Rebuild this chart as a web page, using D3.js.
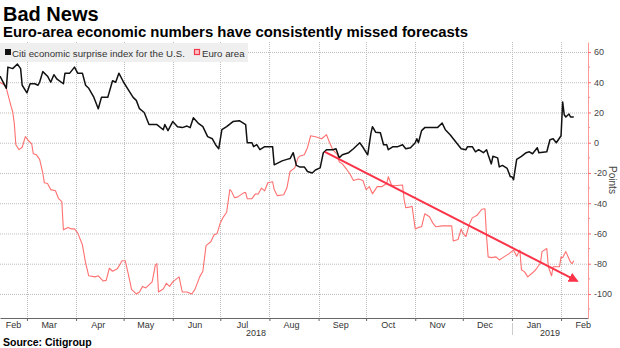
<!DOCTYPE html>
<html>
<head>
<meta charset="utf-8">
<script src="https://cdn.jsdelivr.net/npm/d3@7"></script>
<style>
	body { margin: 0; background: #fff; }
	text { font-family: "Liberation Sans", Arial, sans-serif; }
</style>
</head>
<body>
<svg width="620" height="348"></svg>
<script>
// Citi economic surprise index
const usSeries = [
	["2018-02-12",44],["2018-02-16",36],["2018-02-17",50],["2018-02-20",49],["2018-02-23",52],["2018-02-25",49],
	["2018-02-26",38],["2018-03-01",33],["2018-03-03",39],["2018-03-06",39],["2018-03-08",38],["2018-03-09",40],
	["2018-03-11",47],["2018-03-14",44],["2018-03-16",40],["2018-03-18",45],["2018-03-20",42],["2018-03-24",39],
	["2018-03-25",46],["2018-03-28",46],["2018-03-31",50],["2018-04-02",46],["2018-04-05",46],["2018-04-07",38],
	["2018-04-09",36],["2018-04-12",30.5],["2018-04-15",22.5],["2018-04-17",30],["2018-04-21",30],["2018-04-24",41],
	["2018-04-26",40],["2018-04-28",46],["2018-05-01",40],["2018-05-04",35],["2018-05-07",30],["2018-05-09",28],
	["2018-05-11",22.5],["2018-05-14",20],["2018-05-17",12],["2018-05-22",12],["2018-05-26",8.6],["2018-05-27",12],
	["2018-05-29",8],["2018-06-01",14],["2018-06-04",10.6],["2018-06-07",10],["2018-06-10",11],["2018-06-12",10],
	["2018-06-14",16.5],["2018-06-17",13],["2018-06-20",10.6],["2018-06-23",4],["2018-06-26",2.6],["2018-06-28",-1.3],
	["2018-06-30",-4],["2018-07-02",8.6],["2018-07-05",10.6],["2018-07-09",14],["2018-07-13",14.6],["2018-07-17",12],
	["2018-07-18",0],["2018-07-21",0],["2018-07-22",-2.6],["2018-07-24",-1.3],["2018-07-26",-4.6],["2018-07-29",-2.6],
	["2018-08-01",-2.6],["2018-08-03",-2.6],["2018-08-04",-14.6],["2018-08-09",-12],["2018-08-12",-11],["2018-08-14",-10.5],
	["2018-08-16",-6.6],["2018-08-18",-15],["2018-08-20",-16],["2018-08-23",-16],["2018-08-25",-19],["2018-08-28",-20],
	["2018-08-30",-18],["2018-09-02",-16.6],["2018-09-04",-6.6],["2018-09-06",-4.6],["2018-09-10",-4.6],["2018-09-12",-4],
	["2018-09-14",-10],["2018-09-16",-8],["2018-09-20",-6.6],["2018-09-23",-4],["2018-09-27",0],["2018-09-29",-3],
	["2018-10-02",-8],["2018-10-04",6],["2018-10-05",10.6],["2018-10-07",7],["2018-10-10",6.6],["2018-10-12",-1.3],
	["2018-10-14",-1.3],["2018-10-15",-4.6],["2018-10-18",-2.6],["2018-10-21",-2.6],["2018-10-24",-1.3],["2018-10-26",-4],
	["2018-10-29",-3.3],["2018-11-01",0],["2018-11-02",2.6],["2018-11-03",0],["2018-11-05",8],["2018-11-07",10],
	["2018-11-10",10],["2018-11-15",10],["2018-11-18",13],["2018-11-20",8.6],["2018-11-23",5.3],["2018-11-25",2.6],
	["2018-11-28",-1.3],["2018-11-30",-4],["2018-12-03",-4.6],["2018-12-04",-2.6],["2018-12-07",-2.6],["2018-12-09",-6],
	["2018-12-11",-4.6],["2018-12-14",-6.6],["2018-12-16",-4.6],["2018-12-17",-8],["2018-12-19",-14],["2018-12-20",-9],
	["2018-12-23",-10],["2018-12-24",-16],["2018-12-26",-15],["2018-12-29",-17],["2018-12-31",-22.5],["2019-01-01",-22.5],
	["2019-01-02",-24.5],["2019-01-04",-11],["2019-01-07",-9],["2019-01-10",-6.6],["2019-01-12",-6],["2019-01-14",-7.3],
	["2019-01-15",-6],["2019-01-17",-3.3],["2019-01-18",-6.6],["2019-01-23",-6],["2019-01-25",2],["2019-01-27",2.6],
	["2019-01-29",0],["2019-02-01",4.6],["2019-02-02",27],["2019-02-03",18.5],["2019-02-04",17],["2019-02-06",19],
	["2019-02-07",17],["2019-02-09",17],
];

const euroSeries = [
	["2018-02-12",40],["2018-02-15",38],["2018-02-16",36],["2018-02-19",24],["2018-02-20",20.5],["2018-02-21",13],
	["2018-02-22",-1.3],["2018-02-24",-4.6],["2018-02-26",-3],["2018-02-28",4],["2018-03-02",1.3],["2018-03-04",-0.7],
	["2018-03-05",-7.3],["2018-03-07",-8],["2018-03-09",-11],["2018-03-11",-20],["2018-03-12",-26.5],["2018-03-14",-27],
	["2018-03-16",-31],["2018-03-19",-31.8],["2018-03-21",-37],["2018-03-23",-39],["2018-03-24",-57.6],["2018-03-27",-56],
	["2018-03-29",-57],["2018-03-31",-57],["2018-04-02",-59.6],["2018-04-05",-67.5],["2018-04-07",-79.5],["2018-04-09",-88],
	["2018-04-13",-88.7],["2018-04-15",-88],["2018-04-18",-91.4],["2018-04-20",-91],["2018-04-22",-83],["2018-04-24",-85],
	["2018-04-27",-83.4],["2018-04-30",-78],["2018-05-02",-78],["2018-05-04",-87],["2018-05-06",-97],["2018-05-09",-100],
	["2018-05-11",-98.7],["2018-05-13",-95],["2018-05-15",-96],["2018-05-19",-92],["2018-05-21",-81],["2018-05-22",-80],
	["2018-05-23",-98.7],["2018-05-26",-96.7],["2018-05-28",-93],["2018-05-30",-95],["2018-06-01",-92],["2018-06-05",-88.7],
	["2018-06-07",-98.7],["2018-06-10",-98.7],["2018-06-13",-100],["2018-06-15",-97],["2018-06-18",-88.7],["2018-06-20",-85],
	["2018-06-22",-68],["2018-06-25",-65.5],["2018-06-27",-61],["2018-06-29",-60],["2018-07-01",-53],["2018-07-03",-49],
	["2018-07-05",-46],["2018-07-07",-31],["2018-07-08",-32],["2018-07-10",-36.4],["2018-07-12",-35.8],["2018-07-16",-33],
	["2018-07-17",-33],["2018-07-18",-37],["2018-07-21",-37],["2018-07-23",-34],["2018-07-25",-33.8],["2018-07-27",-30],
	["2018-07-29",-31.8],["2018-07-31",-26.5],["2018-08-03",-25.8],["2018-08-04",-31],["2018-08-06",-35],["2018-08-10",-34.4],
	["2018-08-12",-30],["2018-08-14",-19],["2018-08-17",-16.6],["2018-08-19",-10],["2018-08-20",-9],["2018-08-23",-8],
	["2018-08-25",-3.3],["2018-08-27",4.6],["2018-08-30",4],["2018-09-03",2.6],["2018-09-06",5.3],["2018-09-08",0],
	["2018-09-10",-4.6],["2018-09-13",-8],["2018-09-14",-12.6],["2018-09-16",-14],["2018-09-19",-18],["2018-09-21",-21],
	["2018-09-23",-25],["2018-09-26",-24],["2018-09-29",-25],["2018-10-01",-31],["2018-10-03",-29],["2018-10-05",-33.8],
	["2018-10-08",-29],["2018-10-11",-29],["2018-10-14",-27],["2018-10-15",-22.5],["2018-10-17",-28],["2018-10-19",-28.5],
	["2018-10-24",-28],["2018-10-25",-37.7],["2018-10-26",-43],["2018-10-29",-42.4],["2018-10-30",-42],["2018-10-31",-49.7],
	["2018-11-01",-57],["2018-11-03",-56],["2018-11-05",-55.6],["2018-11-07",-47],["2018-11-10",-49],["2018-11-12",-53],
	["2018-11-14",-55.6],["2018-11-18",-55],["2018-11-24",-55],["2018-11-25",-65],["2018-11-28",-64],["2018-11-30",-57],
	["2018-12-01",-60],["2018-12-03",-62],["2018-12-05",-54.3],["2018-12-07",-49.7],["2018-12-10",-48],["2018-12-13",-44],
	["2018-12-15",-43.7],["2018-12-16",-62],["2018-12-17",-75.5],["2018-12-19",-76],["2018-12-22",-75.5],["2018-12-24",-77.5],
	["2018-12-27",-75.5],["2018-12-30",-73.5],["2019-01-02",-71],["2019-01-04",-75],["2019-01-06",-71],["2019-01-07",-84],
	["2019-01-09",-85.4],["2019-01-11",-88.7],["2019-01-14",-86],["2019-01-16",-84],["2019-01-19",-79.5],["2019-01-20",-72],
	["2019-01-23",-70],["2019-01-24",-82],["2019-01-26",-88],["2019-01-27",-82],["2019-01-31",-82],["2019-02-01",-75.5],
	["2019-02-02",-76],["2019-02-04",-72],["2019-02-07",-79],["2019-02-08",-80],["2019-02-09",-78],
];

// downtrend arrow drawn over the euro line
const trendArrow = [["2018-09-05", -6], ["2019-02-11", -91.4]];

const yTicks = [-100, -80, -60, -40, -20, 0, 20, 40, 60];
const yMinorTicks = [-110, -90, -70, -50, -30, -10, 10, 30, 50];
const xDomain = ["2018-02-12", "2019-02-18"];
const years = ["2018", "2019"];
const legendLabels = ["Citi economic surprise index for the U.S.", "Euro area"];

const parse = d3.timeParse("%Y-%m-%d");
const usColor = "#111";
const euroColor = "#ff7070";
const arrowColor = "#fb3348";
const gridColor = "#bdbdbd";

const plot = { left: 0, right: 588, top: 42, bottom: 318 };

const svg = d3.select("svg");

const x = d3
	.scaleTime()
	.domain(xDomain.map(parse))
	.range([plot.left, plot.right]);

const y = d3
	.scaleLinear()
	.domain([-115.9, 66.6])
	.range([plot.bottom, plot.top]);

// titles
svg.append("text")
	.attr("x", 3).attr("y", 21)
	.attr("font-size", 20).attr("font-weight", "bold")
	.text("Bad News");
svg.append("text")
	.attr("x", 3).attr("y", 37)
	.attr("font-size", 14.9).attr("font-weight", "bold")
	.text("Euro-area economic numbers have consistently missed forecasts");

// grid
const months = d3.timeMonth.range(x.domain()[0], x.domain()[1]);
svg.append("g")
	.selectAll("line.h")
	.data(yTicks)
	.join("line")
	.attr("x1", plot.left).attr("x2", plot.right)
	.attr("y1", (d) => y(d) + 0.5).attr("y2", (d) => y(d) + 0.5)
	.attr("stroke", gridColor).attr("stroke-dasharray", "1,1");
svg.append("g")
	.selectAll("line.v")
	.data(months)
	.join("line")
	.attr("x1", (d) => Math.round(x(d)) + 0.5).attr("x2", (d) => Math.round(x(d)) + 0.5)
	.attr("y1", plot.top).attr("y2", plot.bottom)
	.attr("stroke", gridColor).attr("stroke-dasharray", "1,1");

// legend
const legend = svg.append("g");
legend.append("rect")
	.attr("x", 0).attr("y", 43).attr("width", 248).attr("height", 19)
	.attr("fill", "#efefef");
legend.append("rect")
	.attr("x", 5).attr("y", 49).attr("width", 6).attr("height", 6)
	.attr("fill", "#111");
legend.append("text")
	.attr("x", 12).attr("y", 56.5).attr("font-size", 9.7).attr("fill", "#333")
	.text(legendLabels[0]);
legend.append("rect")
	.attr("x", 194.5).attr("y", 49.5).attr("width", 5).attr("height", 5)
	.attr("fill", "#ffc0c0").attr("stroke", "#f0384c").attr("stroke-width", 1.2);
legend.append("text")
	.attr("x", 202).attr("y", 56.5).attr("font-size", 9.7).attr("fill", "#333")
	.text(legendLabels[1]);

// series
const line = d3
	.line()
	.x((d) => x(parse(d[0])))
	.y((d) => y(d[1]));

svg.append("path")
	.datum(euroSeries)
	.attr("d", line)
	.attr("fill", "none")
	.attr("stroke", euroColor)
	.attr("stroke-width", 1.1)
	.attr("stroke-linejoin", "round");

svg.append("path")
	.datum(usSeries)
	.attr("d", line)
	.attr("fill", "none")
	.attr("stroke", usColor)
	.attr("stroke-width", 1.5)
	.attr("stroke-linejoin", "round");

// arrow
svg.append("defs")
	.append("marker")
	.attr("id", "arrowhead")
	.attr("viewBox", "0 0 10 10")
	.attr("refX", 8).attr("refY", 5)
	.attr("markerWidth", 5).attr("markerHeight", 5)
	.attr("orient", "auto")
	.append("path")
	.attr("d", "M0,0L10,5L0,10z")
	.attr("fill", arrowColor);

svg.append("line")
	.attr("x1", x(parse(trendArrow[0][0]))).attr("y1", y(trendArrow[0][1]))
	.attr("x2", x(parse(trendArrow[1][0]))).attr("y2", y(trendArrow[1][1]))
	.attr("stroke", arrowColor)
	.attr("stroke-width", 2)
	.attr("marker-end", "url(#arrowhead)");

// x axis
const xAxisG = svg.append("g").attr("transform", `translate(0,${plot.bottom})`);
xAxisG.call(
	d3.axisBottom(x).tickValues(months).tickSize(3).tickSizeOuter(0).tickFormat(""),
);
xAxisG.select(".domain").attr("stroke", "#666");
xAxisG.selectAll(".tick line").attr("stroke", "#666");

const monthStarts = d3.timeMonth.range(d3.timeMonth.floor(x.domain()[0]), x.domain()[1]);
svg.append("g")
	.selectAll("text")
	.data(monthStarts)
	.join("text")
	.attr("x", (d) => Math.max(13.5, x(d3.timeDay.offset(d, 14))))
	.attr("y", 328)
	.attr("text-anchor", "middle")
	.attr("font-size", 9)
	.attr("fill", "#333")
	.text(d3.timeFormat("%b"));

const yearBreak = x(parse("2019-01-01"));
svg.append("g")
	.selectAll("text")
	.data(years)
	.join("text")
	.attr("x", (d, i) => (i === 0 ? (plot.left + yearBreak) / 2 : (yearBreak + plot.right) / 2))
	.attr("y", 336)
	.attr("text-anchor", "middle")
	.attr("font-size", 9)
	.attr("fill", "#333")
	.text((d) => d);
svg.append("line")
	.attr("x1", Math.round(yearBreak) + 0.5).attr("x2", Math.round(yearBreak) + 0.5)
	.attr("y1", 323).attr("y2", 335)
	.attr("stroke", "#ccc");

// y axis (right, red)
const yAxisG = svg.append("g").attr("transform", `translate(${plot.right},0)`);
yAxisG.call(
	d3.axisRight(y).tickValues(yTicks).tickSize(3).tickPadding(3).tickSizeOuter(0)
		.tickFormat((d) => String(d)),
);
yAxisG.select(".domain").attr("stroke", "#ff9a9a");
yAxisG.selectAll(".tick line").attr("stroke", "#ff6a6a");
yAxisG.selectAll(".tick text")
	.attr("font-size", 9)
	.attr("fill", "#444")
	.attr("font-family", "Liberation Sans, Arial, sans-serif");
yAxisG.selectAll("line.minor")
	.data(yMinorTicks)
	.join("line")
	.attr("class", "minor")
	.attr("x1", 0).attr("x2", 2)
	.attr("y1", (d) => y(d)).attr("y2", (d) => y(d))
	.attr("stroke", "#ff8a8a");

svg.append("text")
	.attr("transform", `translate(609,180) rotate(90)`)
	.attr("text-anchor", "middle")
	.attr("font-size", 10)
	.attr("fill", "#444")
	.text("Points");

// source
svg.append("text")
	.attr("x", 3).attr("y", 346)
	.attr("font-size", 10.5).attr("font-weight", "bold")
	.text("Source:  Citigroup");
</script>
</body>
</html>
